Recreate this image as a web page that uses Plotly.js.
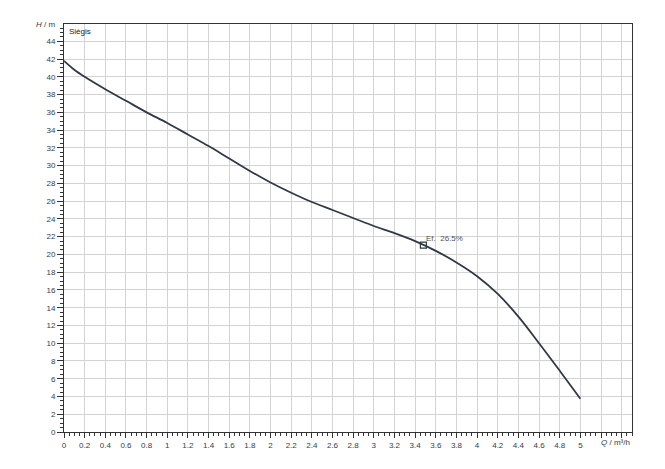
<!DOCTYPE html>
<html>
<head>
<meta charset="utf-8">
<script src="https://cdn.plot.ly/plotly-3.0.1.min.js"></script>
<style>html,body{margin:0;padding:0;background:#fff;}#chart{width:665px;height:469px;}</style>
</head>
<body>
<div id="chart"></div>
<script>
// Pump curve: flow Q (m³/h) vs head H (m)
const flowQ = [0, 0.1, 0.2, 0.4, 0.6, 0.8, 1.0, 1.2, 1.4, 1.6, 1.8, 2.0, 2.2, 2.4, 2.6, 2.8, 3.0, 3.2, 3.4, 3.6, 3.8, 4.0, 4.2, 4.4, 4.6, 4.8, 5.0];
const headH = [41.8, 40.8, 40.0, 38.6, 37.3, 36.0, 34.8, 33.5, 32.2, 30.8, 29.4, 28.1, 26.95, 25.9, 25.0, 24.1, 23.2, 22.4, 21.5, 20.4, 19.1, 17.55, 15.55, 13.0, 10.0, 6.9, 3.75];
const dutyQ = [3.48];
const dutyH = [21.05];
const dutyLabel = "Ef.  26.5%";
const brandLabel = "Siégis";
const xTickVals = [0,0.2,0.4,0.6,0.8,1,1.2,1.4,1.6,1.8,2,2.2,2.4,2.6,2.8,3,3.2,3.4,3.6,3.8,4,4.2,4.4,4.6,4.8,5,5.2,5.4];
const xTickText = ["0","0.2","0.4","0.6","0.8","1","1.2","1.4","1.6","1.8","2","2.2","2.4","2.6","2.8","3","3.2","3.4","3.6","3.8","4","4.2","4.4","4.6","4.8","5","",""];
const yTickVals = [0,2,4,6,8,10,12,14,16,18,20,22,24,26,28,30,32,34,36,38,40,42,44];
const yTickText = yTickVals.map(String);

const tickFont = {family: "Liberation Sans, Arial, sans-serif", size: 8, color: "#343d4a"};

const traces = [
  {x: flowQ, y: headH, type: "scatter", mode: "lines",
   line: {color: "#2f3947", width: 1.8, shape: "spline", smoothing: 1},
   hoverinfo: "skip", showlegend: false},
  {x: dutyQ, y: dutyH, type: "scatter", mode: "markers",
   marker: {symbol: "square-open", size: 6, color: "#2f3947", line: {width: 1.2, color: "#2f3947"}},
   hoverinfo: "skip", showlegend: false}
];

const layout = {
  width: 665, height: 469,
  margin: {l: 64, r: 33, t: 24, b: 37},
  paper_bgcolor: "#fff", plot_bgcolor: "#fff",
  showlegend: false,
  xaxis: {
    range: [0, 5.5], tickmode: "array", tickvals: xTickVals, ticktext: xTickText,
    showgrid: true, gridcolor: "#d3d3d3", gridwidth: 1, zeroline: false,
    showline: true, linecolor: "#333", linewidth: 1, mirror: true,
    ticks: "outside", ticklen: 5, tickcolor: "#333", tickwidth: 1,
    tickfont: tickFont,
    minor: {tickmode: "linear", tick0: 0, dtick: 0.05, ticks: "outside", ticklen: 3, tickcolor: "#333", showgrid: false}
  },
  yaxis: {
    range: [0, 45.95], tickmode: "array", tickvals: yTickVals, ticktext: yTickText,
    showgrid: true, gridcolor: "#d3d3d3", gridwidth: 1, zeroline: false,
    showline: true, linecolor: "#333", linewidth: 1, mirror: true,
    ticks: "outside", ticklen: 6, tickcolor: "#333", tickwidth: 1,
    tickfont: tickFont,
    minor: {tickmode: "linear", tick0: 0, dtick: 0.5, ticks: "outside", ticklen: 3, tickcolor: "#333", showgrid: false}
  },
  annotations: [
    {xref: "paper", yref: "paper", x: -0.012, y: 1.0, xanchor: "right", yanchor: "middle",
     text: "<i>H</i> / m", showarrow: false, font: tickFont},
    {xref: "paper", yref: "paper", x: 1.0, y: 0, yshift: -10, xanchor: "right", yanchor: "middle",
     text: "<i>Q</i> / m³/h", showarrow: false, font: tickFont},
    {xref: "paper", yref: "paper", x: 0.006, y: 0.982, xanchor: "left", yanchor: "middle",
     text: brandLabel, showarrow: false, font: {family: "Liberation Sans, Arial, sans-serif", size: 8, color: "#222"}},
    {x: dutyQ[0], y: dutyH[0], xref: "x", yref: "y", xanchor: "left", yanchor: "bottom",
     xshift: 1, yshift: 0, text: dutyLabel, showarrow: false,
     font: {family: "Liberation Sans, Arial, sans-serif", size: 8, color: "#555"}}
  ]
};

Plotly.newPlot("chart", traces, layout, {staticPlot: true, displayModeBar: false});
</script>
</body>
</html>
